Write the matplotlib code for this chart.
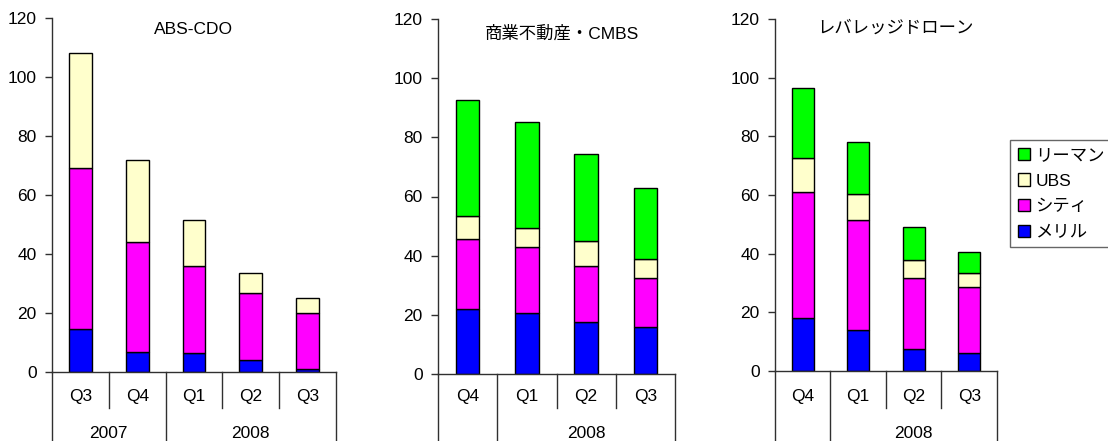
import numpy as np
import matplotlib
matplotlib.use('Agg')
import matplotlib.pyplot as plt
from matplotlib.patches import Patch

plt.rcParams['font.family'] = ['Liberation Sans', 'Noto Sans CJK JP', 'DejaVu Sans']
plt.rcParams['font.size'] = 12.5

# series names (legend order top -> bottom)
names = ['リーマン', 'UBS', 'シティ', 'メリル']
colors = {'メリル': '#0000ff', 'シティ': '#ff00ff', 'UBS': '#ffffcc', 'リーマン': '#00ff00'}

# ABS-CDO
abs_q = ['Q3', 'Q4', 'Q1', 'Q2', 'Q3']
abs_years = [('2007', 0, 2), ('2008', 2, 5)]
abs_merrill = [14.7, 6.9, 6.5, 4.2, 1.1]
abs_citi = [54.6, 37.1, 29.3, 22.6, 18.9]
abs_ubs = [39.0, 27.7, 15.6, 6.7, 5.1]

# 商業不動産・CMBS
cmbs_q = ['Q4', 'Q1', 'Q2', 'Q3']
cmbs_years = [('', 0, 1), ('2008', 1, 4)]
cmbs_merrill = [22.1, 20.6, 17.6, 15.9]
cmbs_citi = [23.7, 22.4, 18.9, 16.7]
cmbs_ubs = [7.5, 6.2, 8.4, 6.4]
cmbs_lehman = [39.3, 36.1, 29.3, 23.9]

# レバレッジドローン
lev_q = ['Q4', 'Q1', 'Q2', 'Q3']
lev_years = [('', 0, 1), ('2008', 1, 4)]
lev_merrill = [18.0, 14.0, 7.4, 6.0]
lev_citi = [42.9, 37.5, 24.2, 22.8]
lev_ubs = [11.6, 8.7, 6.2, 4.5]
lev_lehman = [23.9, 17.8, 11.4, 7.4]

W, H = 1108, 441
fig = plt.figure(figsize=(W / 100, H / 100), dpi=100)
axcol = '#303030'


def panel(x0, x1, y0, y1, title, tx, ty, quarters, years, series):
    ax = fig.add_axes([x0 / W, 1 - y1 / H, (x1 - x0) / W, (y1 - y0) / H])
    n = len(quarters)
    x = np.arange(n)
    bottom = np.zeros(n)
    for name, vals in series:
        ax.bar(x, vals, 0.4, bottom=bottom, color=colors[name],
               edgecolor='black', linewidth=1.0, zorder=2)
        bottom += np.array(vals)
    ax.set_xlim(-0.5, n - 0.5)
    ax.set_ylim(0, 120)
    ax.set_yticks(range(0, 121, 20))
    ax.tick_params(axis='y', direction='out', length=5, width=1, color=axcol, pad=6)
    ax.set_xticks([])
    for s in ['top', 'right']:
        ax.spines[s].set_visible(False)
    for s in ['left', 'bottom']:
        ax.spines[s].set_color(axcol)
        ax.spines[s].set_linewidth(1)
    h = y1 - y0
    short = -(408 - y1) / h
    full = -(H + 2 - y1) / h
    tr = ax.get_xaxis_transform()
    starts = {a for _, a, b in years} | {b for _, a, b in years}
    for k in range(n + 1):
        bot = full if k in starts else short
        ax.plot([k - 0.5, k - 0.5], [0, bot], color=axcol, lw=1,
                transform=tr, clip_on=False)
    for k, q in enumerate(quarters):
        ax.text(k, -(397 - y1) / h, q, transform=tr, ha='center', va='center')
    for lab, a, b in years:
        ax.text((a + b - 1) / 2, -(433 - y1) / h, lab, transform=tr,
                ha='center', va='center')
    fig.text(tx / W, 1 - ty / H, title, ha='center', va='center')
    return ax


panel(52, 336, 18, 372, 'ABS-CDO', 193, 30, abs_q, abs_years,
      [('メリル', abs_merrill), ('シティ', abs_citi), ('UBS', abs_ubs)])
panel(438, 675, 19, 374, '商業不動産・CMBS', 562, 33, cmbs_q, cmbs_years,
      [('メリル', cmbs_merrill), ('シティ', cmbs_citi), ('UBS', cmbs_ubs),
       ('リーマン', cmbs_lehman)])
panel(775, 997, 19, 371, 'レバレッジドローン', 895, 28, lev_q, lev_years,
      [('メリル', lev_merrill), ('シティ', lev_citi), ('UBS', lev_ubs),
       ('リーマン', lev_lehman)])

handles = [Patch(facecolor=colors[nm], edgecolor='black', linewidth=1) for nm in names]
leg = fig.legend(handles, names, loc='upper left', bbox_to_anchor=(1010 / W, 1 - 140 / H),
                 frameon=True, fancybox=False, handlelength=0.7, handleheight=0.7,
                 handletextpad=0.3, labelspacing=0.6, borderpad=0.45, borderaxespad=0)
leg.get_frame().set_edgecolor('#404040')
leg.get_frame().set_linewidth(1)

fig.savefig('out.png', dpi=100)
